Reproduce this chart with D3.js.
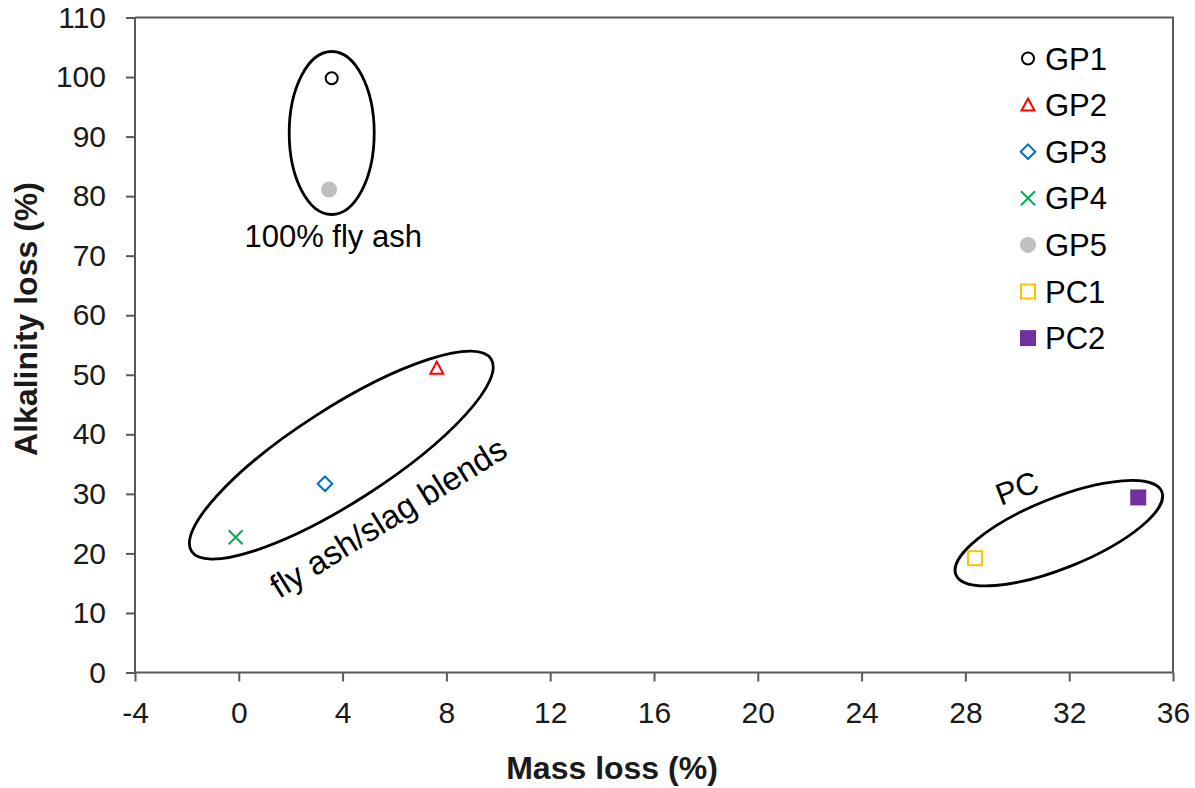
<!DOCTYPE html>
<html>
<head>
<meta charset="utf-8">
<script src="https://cdn.jsdelivr.net/npm/d3@7"></script>
<style>
  html, body { margin: 0; padding: 0; background: #fff; }
  svg { display: block; font-family: Arial, "Liberation Sans", sans-serif; }
</style>
</head>
<body>
<svg id="chart" width="1195" height="788"></svg>
<script>
// Mixes and their measured losses
const mixes = ["GP1", "GP2", "GP3", "GP4", "GP5", "PC1", "PC2"];
const massLoss = [3.58, 7.63, 3.32, -0.12, 3.48, 28.37, 34.66];       // %
const alkalinityLoss = [99.8, 51.1, 31.7, 22.7, 81.1, 19.2, 29.4];    // %

// Marker style per mix
const markerShapes = ["circle", "triangle", "diamond", "cross", "dot", "square", "filledSquare"];
const markerColors = ["#000000", "#FF0000", "#0070C0", "#00B050", "#BFBFBF", "#FFC000", "#7030A0"];

// Axis ticks
const xTicks = [-4, 0, 4, 8, 12, 16, 20, 24, 28, 32, 36];
const xMinorTicks = [-2, 2, 6, 10, 14, 18, 22, 26, 30, 34];
const yTicks = [0, 10, 20, 30, 40, 50, 60, 70, 80, 90, 100, 110];
const yMinorTicks = [5, 15, 25, 35, 45, 55, 65, 75, 85, 95, 105];

// Group outlines: centre (data units) and label text
const groupNames = ["100% fly ash", "fly ash/slag blends", "PC"];
const groupCentreX = [3.58, 3.95, 31.6];
const groupCentreY = [90.6, 36.5, 23.4];

const svg = d3.select("#chart");
const axisColor = "#595959";
const plainNumber = d => String(d);   // hyphen-minus for negatives

const x = d3.scaleLinear().domain([-4, 36]).range([135, 1173]);
const y = d3.scaleLinear().domain([0, 110]).range([672.5, 17.5]);

// Plot frame (top and right edges)
svg.append("path")
  .attr("d", `M${x(-4)},${y(110)}H${x(36)}V${y(0)}`)
  .attr("fill", "none").attr("stroke", axisColor).attr("stroke-width", 2);

// X axis
const gx = svg.append("g").attr("transform", `translate(0,${y(0)})`);
gx.call(d3.axisBottom(x).tickValues(xMinorTicks).tickSize(6).tickFormat(""));
gx.call(d3.axisBottom(x).tickValues(xTicks).tickSize(9).tickPadding(20).tickFormat(plainNumber));
gx.selectAll("path.domain").remove();
gx.append("line").attr("x1", x(-4)).attr("x2", x(36)).attr("stroke", axisColor).attr("stroke-width", 2);

// Y axis
const gy = svg.append("g").attr("transform", `translate(${x(-4)},0)`);
gy.call(d3.axisLeft(y).tickValues(yMinorTicks).tickSize(8).tickFormat(""));
gy.call(d3.axisLeft(y).tickValues(yTicks).tickSize(9).tickPadding(20).tickFormat(plainNumber));
gy.selectAll("path.domain").remove();
gy.append("line").attr("y1", y(0)).attr("y2", y(110)).attr("stroke", axisColor).attr("stroke-width", 2);

svg.selectAll(".tick line").attr("stroke", axisColor).attr("stroke-width", 2);
svg.selectAll(".tick text")
  .attr("fill", "#1a1a1a")
  .style("font-size", "30px")
  .style("font-family", "Arial, 'Liberation Sans', sans-serif");

// Axis titles
svg.append("text")
  .attr("x", 612).attr("y", 779)
  .attr("text-anchor", "middle")
  .style("font-size", "32px").style("font-weight", "bold")
  .attr("fill", "#1a1a1a")
  .text("Mass loss (%)");

svg.append("text")
  .attr("transform", "translate(37,319) rotate(-90)")
  .attr("text-anchor", "middle")
  .style("font-size", "32px").style("font-weight", "bold")
  .attr("fill", "#1a1a1a")
  .text("Alkalinity loss (%)");

// Group outlines (ellipse radii in px, rotation in degrees)
const outline = [
  { rx: 42.5, ry: 81.5, rot: 0 },
  { rx: 178, ry: 47, rot: -32.7 },
  { rx: 111, ry: 35, rot: -22 }
];
outline.forEach((o, i) => {
  svg.append("ellipse")
    .attr("transform", `translate(${x(groupCentreX[i])},${y(groupCentreY[i])}) rotate(${o.rot})`)
    .attr("rx", o.rx).attr("ry", o.ry)
    .attr("fill", "none").attr("stroke", "#000").attr("stroke-width", 2.8);
});

// Group labels (offsets from each outline centre, px)
const labelPlace = [
  { dx: 1.5, dy: 114, rot: 0, size: 31 },
  { dx: 53, dy: 72, rot: -32, size: 33 },
  { dx: -38, dy: -35, rot: -21, size: 31 }
];
groupNames.forEach((name, i) => {
  const p = labelPlace[i];
  svg.append("text")
    .attr("transform", `translate(${x(groupCentreX[i]) + p.dx},${y(groupCentreY[i]) + p.dy}) rotate(${p.rot})`)
    .attr("text-anchor", "middle")
    .style("font-size", p.size + "px")
    .attr("fill", "#000")
    .text(name);
});

// Marker drawing
function drawMarker(g, shape, color, cx, cy) {
  switch (shape) {
    case "circle":
      g.append("circle").attr("cx", cx).attr("cy", cy).attr("r", 6)
        .attr("fill", "#fff").attr("stroke", color).attr("stroke-width", 2);
      break;
    case "triangle":
      g.append("path").attr("d", `M${cx},${cy - 6.5}L${cx + 6.5},${cy + 5.5}L${cx - 6.5},${cy + 5.5}Z`)
        .attr("fill", "#fff").attr("stroke", color).attr("stroke-width", 2).attr("stroke-linejoin", "miter");
      break;
    case "diamond":
      g.append("path").attr("d", `M${cx},${cy - 7.3}L${cx + 7.3},${cy}L${cx},${cy + 7.3}L${cx - 7.3},${cy}Z`)
        .attr("fill", "#fff").attr("stroke", color).attr("stroke-width", 2);
      break;
    case "cross":
      g.append("path").attr("d", `M${cx - 7},${cy - 7}L${cx + 7},${cy + 7}M${cx - 7},${cy + 7}L${cx + 7},${cy - 7}`)
        .attr("fill", "none").attr("stroke", color).attr("stroke-width", 2);
      break;
    case "dot":
      g.append("circle").attr("cx", cx).attr("cy", cy).attr("r", 8)
        .attr("fill", color);
      break;
    case "square":
      g.append("rect").attr("x", cx - 7).attr("y", cy - 7).attr("width", 14).attr("height", 14)
        .attr("fill", "#fff").attr("stroke", color).attr("stroke-width", 2);
      break;
    case "filledSquare":
      g.append("rect").attr("x", cx - 8).attr("y", cy - 8).attr("width", 16).attr("height", 16)
        .attr("fill", color);
      break;
  }
}

// Data points
const pts = svg.append("g");
mixes.forEach((m, i) => {
  drawMarker(pts, markerShapes[i], markerColors[i], x(massLoss[i]), y(alkalinityLoss[i]));
});

// Legend
const legend = svg.append("g").attr("transform", "translate(1028,58.5)");
mixes.forEach((m, i) => {
  const ly = i * 46.6;
  drawMarker(legend, markerShapes[i], markerColors[i], 0, ly);
  legend.append("text")
    .attr("x", 17).attr("y", ly).attr("dy", "0.36em")
    .style("font-size", "31px")
    .attr("fill", "#000")
    .text(m);
});
</script>
</body>
</html>
